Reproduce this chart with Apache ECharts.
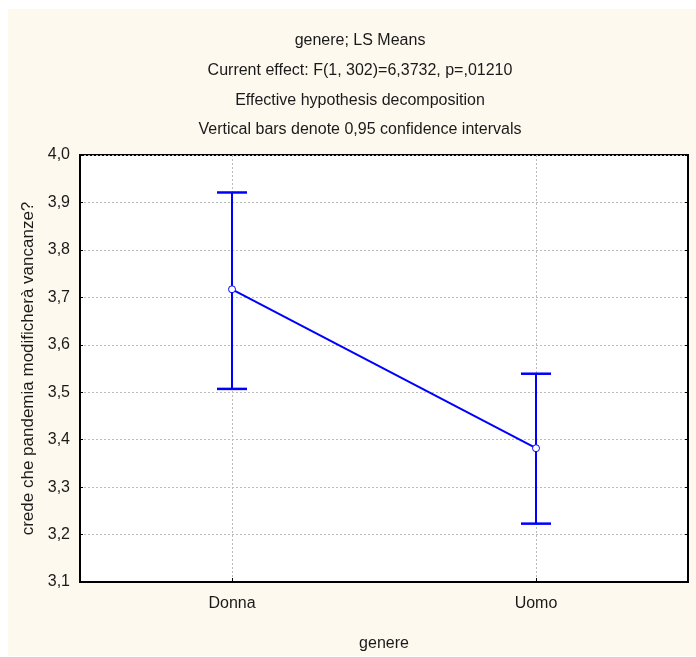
<!DOCTYPE html>
<html>
<head>
<meta charset="utf-8">
<script src="https://cdn.jsdelivr.net/npm/echarts@6/dist/echarts.min.js"></script>
<style>
html,body{margin:0;padding:0;background:#fff;}
#chart{width:696px;height:657px;}
</style>
</head>
<body>
<div id="chart"></div>
<script>
const categories = ['Donna', 'Uomo'];
const means = [3.717, 3.382];
const lowerCI = [3.507, 3.223];
const upperCI = [3.921, 3.539];
const yTicks = [3.1, 3.2, 3.3, 3.4, 3.5, 3.6, 3.7, 3.8, 3.9, 4.0];
const titleLines = [
  'genere; LS Means',
  'Current effect: F(1, 302)=6,3732, p=,01210',
  'Effective hypothesis decomposition',
  'Vertical bars denote 0,95 confidence intervals'
];
const xName = 'genere';
const yName = 'crede che pandemia modificherà vancanze?';

const FONT = '"Liberation Sans Narrow", "Liberation Sans", Arial, sans-serif';
const chart = echarts.init(document.getElementById('chart'), null, {renderer: 'canvas'});

const titleTops = [28, 58, 88, 117];
const option = {
  backgroundColor: '#ffffff',
  animation: false,
  graphic: [{
    type: 'rect', z: -10, silent: true,
    shape: {x: 8, y: 9, width: 700, height: 647},
    style: {fill: '#FDF9EF'}
  }],
  title: titleLines.map((t, i) => ({
    text: t, left: 355, top: titleTops[i], textAlign: 'center',
    textStyle: {fontFamily: FONT, fontSize: 16, fontWeight: 'normal', color: '#1a1a1a'}
  })),
  grid: {
    left: 80, right: 8, top: 155, bottom: 74,
    show: true, backgroundColor: '#ffffff', borderColor: '#000', borderWidth: 2
  },
  xAxis: {
    type: 'category', data: categories, boundaryGap: true,
    name: xName, nameLocation: 'middle', nameGap: 54,
    nameTextStyle: {fontFamily: FONT, fontSize: 16, color: '#1a1a1a'},
    axisLine: {show: true, lineStyle: {color: '#000', width: 2}},
    axisTick: {show: true, alignWithLabel: true, inside: true, length: 4, lineStyle: {color: '#000'}},
    axisLabel: {fontFamily: FONT, fontSize: 16, color: '#1a1a1a', margin: 14},
    splitLine: {show: true, alignWithLabel: true, lineStyle: {color: '#bbbbbb', type: [2, 2], width: 1}}
  },
  yAxis: [{
    type: 'value', min: 3.1, max: 4.0, interval: 0.1,
    name: yName, nameLocation: 'middle', nameGap: 42, nameRotate: 90,
    nameTextStyle: {fontFamily: FONT, fontSize: 17, color: '#1a1a1a'},
    axisLine: {show: true, lineStyle: {color: '#000', width: 2}},
    axisTick: {show: true, inside: true, length: 3, lineStyle: {color: '#000'}},
    axisLabel: {
      fontFamily: FONT, fontSize: 16, color: '#1a1a1a', margin: 10,
      formatter: v => {
        const m = yTicks.find(t => Math.abs(t - v) < 1e-6);
        return m === undefined ? '' : m.toFixed(1).replace('.', ',');
      }
    },
    splitLine: {show: true, lineStyle: {color: '#bbbbbb', type: [2, 2], width: 1}}
  }, {
    type: 'value', min: 3.1, max: 4.0, interval: 0.1, position: 'right',
    axisLine: {show: true, lineStyle: {color: '#000', width: 2}},
    axisTick: {show: true, inside: true, length: 3, lineStyle: {color: '#000'}},
    axisLabel: {show: false},
    splitLine: {show: false}
  }],
  series: [{
    type: 'custom',
    z: 3,
    data: categories.map((c, i) => [i, lowerCI[i], upperCI[i]]),
    renderItem: (params, api) => {
      const x = api.value(0);
      const lo = api.coord([x, api.value(1)]);
      const hi = api.coord([x, api.value(2)]);
      const half = 15;
      const st = {stroke: '#0000FF', lineWidth: 2};
      return {
        type: 'group',
        children: [
          {type: 'line', shape: {x1: lo[0], y1: lo[1], x2: hi[0], y2: hi[1]}, style: st},
          {type: 'line', shape: {x1: hi[0] - half, y1: hi[1], x2: hi[0] + half, y2: hi[1]}, style: {stroke: '#0000FF', lineWidth: 2.5}},
          {type: 'line', shape: {x1: lo[0] - half, y1: lo[1], x2: lo[0] + half, y2: lo[1]}, style: {stroke: '#0000FF', lineWidth: 2.5}}
        ]
      };
    }
  }, {
    type: 'line',
    z: 4,
    data: means,
    symbol: 'circle', symbolSize: 7,
    lineStyle: {color: '#0000FF', width: 2},
    itemStyle: {color: '#ffffff', borderColor: '#0000FF', borderWidth: 1}
  }]
};
chart.setOption(option);
</script>
</body>
</html>
